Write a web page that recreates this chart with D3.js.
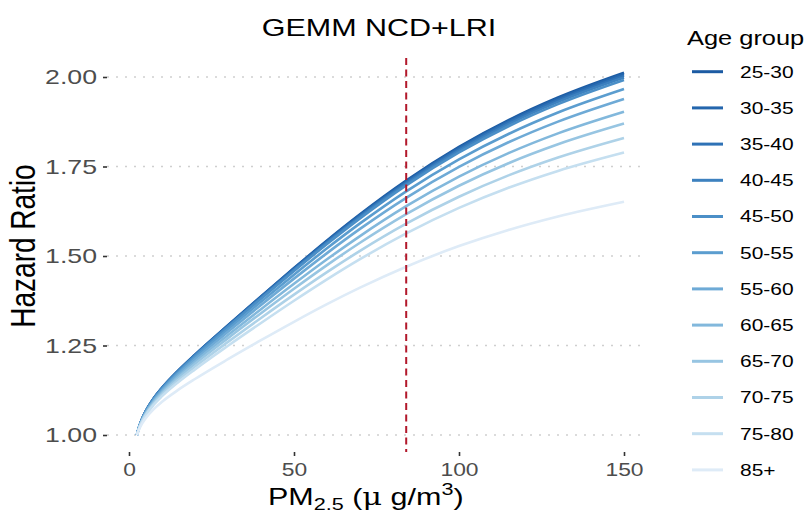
<!DOCTYPE html>
<html><head><meta charset="utf-8">
<script src="https://cdn.jsdelivr.net/npm/d3@7"></script>
<style>body{margin:0;background:#fff;} text{font-family:"Liberation Sans",Arial,sans-serif;}</style>
</head><body><svg id="c" width="809" height="520"></svg>
<script>
const ageGroups = ["25-30","30-35","35-40","40-45","45-50","50-55","55-60","60-65","65-70","70-75","75-80","85+"];
const colors = ["#1c5ba3","#2466ad","#2f72b6","#3d81bf","#4b8fc7","#5b9dcf","#6eaad6","#82b8dc","#97c5e2","#aed2e8","#c5dff0","#deebf7"];
const pm = [2.4,3,4,5,7.5,10,15,20,30,40,50,60,70,84,100,115,130,150];
const hr_25_30 = [1,1.0204,1.0457,1.0652,1.1024,1.1317,1.1807,1.2244,1.3067,1.3871,1.4662,1.5432,1.6163,1.7105,1.8047,1.8795,1.9427,2.0119];
const hr_30_35 = [1,1.0203,1.0456,1.0650,1.1021,1.1313,1.1802,1.2238,1.3058,1.3860,1.4648,1.5415,1.6143,1.7082,1.8020,1.8765,1.9394,2.0083];
const hr_35_40 = [1,1.0203,1.0454,1.0648,1.1018,1.1309,1.1796,1.2230,1.3047,1.3845,1.4630,1.5394,1.6119,1.7053,1.7987,1.8728,1.9354,2.0039];
const hr_40_45 = [1,1.0202,1.0453,1.0646,1.1014,1.1304,1.1789,1.2221,1.3034,1.3828,1.4609,1.5369,1.6090,1.7018,1.7946,1.8683,1.9305,1.9986];
const hr_45_50 = [1,1.0201,1.0450,1.0642,1.1008,1.1297,1.1779,1.2208,1.3016,1.3805,1.4581,1.5335,1.6051,1.6973,1.7893,1.8624,1.9241,1.9916];
const hr_50_55 = [1,1.0197,1.0441,1.0630,1.0989,1.1271,1.1743,1.2163,1.2953,1.3723,1.4479,1.5214,1.5910,1.6807,1.7700,1.8409,1.9008,1.9663];
const hr_55_60 = [1,1.0193,1.0432,1.0617,1.0967,1.1243,1.1703,1.2113,1.2883,1.3632,1.4368,1.5081,1.5757,1.6626,1.7490,1.8176,1.8754,1.9387];
const hr_60_65 = [1,1.0187,1.0420,1.0599,1.0939,1.1206,1.1652,1.2048,1.2792,1.3515,1.4223,1.4908,1.5557,1.6391,1.7218,1.7874,1.8426,1.9030];
const hr_65_70 = [1,1.0182,1.0408,1.0582,1.0912,1.1171,1.1603,1.1987,1.2706,1.3403,1.4086,1.4746,1.5370,1.6170,1.6963,1.7592,1.8120,1.8698];
const hr_70_75 = [1,1.0176,1.0393,1.0561,1.0879,1.1129,1.1544,1.1912,1.2601,1.3268,1.3920,1.4549,1.5143,1.5903,1.6656,1.7252,1.7752,1.8298];
const hr_75_80 = [1,1.0169,1.0379,1.0540,1.0845,1.1084,1.1482,1.1834,1.2493,1.3129,1.3750,1.4347,1.4911,1.5631,1.6343,1.6905,1.7377,1.7891];
const hr_85p   = [1,1.0146,1.0326,1.0464,1.0725,1.0929,1.1266,1.1564,1.2117,1.2647,1.3161,1.3654,1.4115,1.4701,1.5277,1.5729,1.6106,1.6517];
const seriesValues = [hr_25_30,hr_30_35,hr_35_40,hr_40_45,hr_45_50,hr_50_55,hr_55_60,hr_60_65,hr_65_70,hr_70_75,hr_75_80,hr_85p];
const xTicks = [0,50,100,150];
const yTicks = [1.00,1.25,1.50,1.75,2.00];
const referencePM = 84;

const SX = 1.27; // horizontal text stretch seen in the reference
const svg = d3.select("#c");
const P = {left:107, right:645, top:58, bottom:452};
const x = d3.scaleLinear().domain([0,150]).range([129,624]);
const y = d3.scaleLinear().domain([1,2]).range([435,77]);

// grid
svg.append("g").selectAll("line").data(yTicks).join("line")
  .attr("x1",P.left).attr("x2",P.right)
  .attr("y1",d=>y(d)).attr("y2",d=>y(d))
  .attr("stroke","#cfcfcf").attr("stroke-width",1.6).attr("stroke-dasharray","2,7");

// lines
const line = d3.line().x(d=>x(d[0])).y(d=>y(d[1])).curve(d3.curveMonotoneX);
svg.append("g").selectAll("path").data(seriesValues).join("path")
  .attr("d",vals=>line(pm.map((p,i)=>[p,vals[i]])))
  .attr("fill","none").attr("stroke",(d,i)=>colors[i]).attr("stroke-width",2.6);

// reference line
svg.append("line").attr("x1",x(referencePM)).attr("x2",x(referencePM))
  .attr("y1",P.top).attr("y2",P.bottom)
  .attr("stroke","#b2182b").attr("stroke-width",2).attr("stroke-dasharray","7,4.5");

// axes
const xa = svg.append("g").attr("transform",`translate(0,${P.bottom})`)
  .call(d3.axisBottom(x).tickValues(xTicks).tickSize(4).tickPadding(7).tickFormat(d3.format("d")));
const ya = svg.append("g").attr("transform",`translate(${P.left},0)`)
  .call(d3.axisLeft(y).tickValues(yTicks).tickSize(4).tickPadding(6).tickFormat(d3.format(".2f")));
[xa,ya].forEach(a=>{
  a.select(".domain").remove();
  a.selectAll(".tick line").attr("stroke","#333").attr("stroke-width",1.6);
  a.selectAll(".tick text").attr("fill","#4d4d4d").style("font-family","'Liberation Sans',Arial,sans-serif")
    .attr("transform",`scale(${SX},1)`);
});
xa.selectAll(".tick text").style("font-size","18px");
ya.selectAll(".tick text").style("font-size","21px").attr("x",-10/SX);

function stretched(px,py,rot){
  return svg.append("g").attr("transform",`translate(${px},${py}) scale(${SX},1)`+(rot?` rotate(${rot})`:""));
}
// title
stretched(379,36).append("text").attr("text-anchor","middle")
  .style("font-size","24px").attr("fill","#000").text("GEMM NCD+LRI");

// y title
stretched(35,246,-90).append("text").attr("text-anchor","middle")
  .style("font-size","28px").attr("fill","#000").text("Hazard Ratio");

// x title
const xt = stretched(268,505).append("text").style("font-size","24px").attr("fill","#000");
xt.append("tspan").text("PM");
xt.append("tspan").attr("dy",5).style("font-size","17px").text("2.5");
xt.append("tspan").attr("dy",-5).text(" (");
xt.append("tspan").style("font-family","'DejaVu Serif',serif").text("μ");
xt.append("tspan").text(" g/m");
xt.append("tspan").attr("dy",-10).style("font-size","17px").text("3");
xt.append("tspan").attr("dy",10).text(")");

// legend
stretched(687,45).append("text").style("font-size","20px").attr("fill","#000").text("Age group");
const items = svg.append("g").selectAll("g.item").data(ageGroups).join("g").attr("class","item")
  .attr("transform",(d,i)=>`translate(0,${71.7+i*36.2})`);
items.append("line").attr("x1",692).attr("x2",723).attr("y1",0).attr("y2",0)
  .attr("stroke",(d,i)=>colors[i]).attr("stroke-width",3);
items.append("text").attr("transform",`translate(740,0) scale(${SX},1)`).attr("dy","0.36em")
  .style("font-size","16.5px").attr("fill","#000").text(d=>d);
</script></body></html>
